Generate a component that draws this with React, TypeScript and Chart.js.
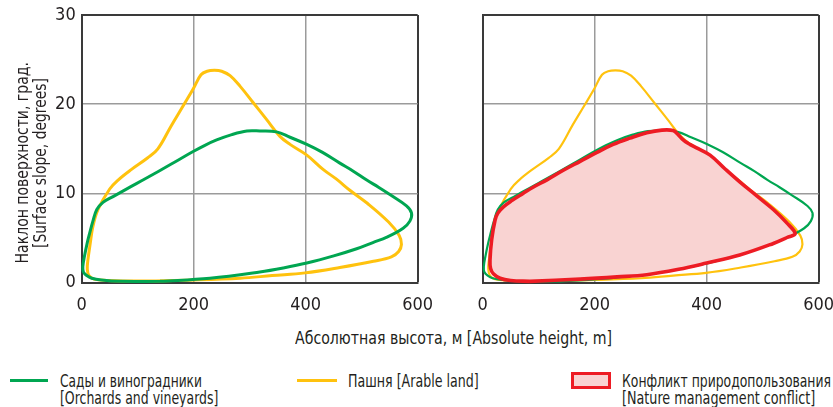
import React, { useEffect, useLayoutEffect, useRef } from 'react';
import { Chart, registerables } from 'chart.js';
Chart.register(...registerables);

const FONT = "'Liberation Sans Narrow', 'DejaVu Sans Condensed', 'Roboto', sans-serif";
const TEXT = '#231f20';

const xTicks = [0, 200, 400, 600];
const yTicks = [0, 10, 20, 30];

const xTitle = 'Абсолютная высота, м [Absolute height, m]';
const yTitle = ['Наклон поверхности, град.', '[Surface slope, degrees]'];

const legendGreen = ['Сады и виноградники', '[Orchards and vineyards]'];
const legendYellow = ['Пашня [Arable land]'];
const legendRed = ['Конфликт природопользования', '[Nature management conflict]'];

// Пашня [Arable land]
const arableX = [120, 200, 283, 340, 399, 461, 521, 553, 566, 571, 567, 548, 510, 480, 455, 431, 402, 372, 354, 330, 306, 283, 265, 250, 237, 224, 213, 199, 181, 160, 136, 118, 89, 65, 50, 29, 20, 15, 11, 10, 13, 22, 45, 80, 120];
const arableY = [0.2, 0.3, 0.5, 0.8, 1.1, 1.7, 2.4, 2.9, 3.5, 4.3, 5.3, 6.8, 8.9, 10.3, 11.6, 12.7, 14.3, 15.5, 16.4, 18.3, 20.2, 22.0, 23.2, 23.7, 23.8, 23.7, 23.3, 21.7, 19.8, 17.6, 15.0, 14.0, 12.7, 11.5, 10.5, 8.2, 6.3, 4.3, 2.5, 1.5, 0.8, 0.4, 0.25, 0.2, 0.2];

// Сады и виноградники [Orchards and vineyards]
const orchardX = [140, 229, 318, 360, 402, 450, 491, 520, 545, 574, 586, 589, 580, 551, 530, 509, 485, 461, 430, 402, 372, 348, 318, 295, 268, 241, 220, 199, 160, 115, 83, 56, 38, 27, 20, 14, 10, 5, 2, 3, 9, 18, 35, 70, 140];
const orchardY = [0.15, 0.5, 1.2, 1.65, 2.2, 3.0, 3.8, 4.5, 5.1, 6.1, 6.9, 7.8, 8.6, 9.85, 10.7, 11.5, 12.5, 13.4, 14.6, 15.5, 16.3, 16.9, 17.0, 17.0, 16.6, 16.0, 15.4, 14.7, 13.3, 11.7, 10.6, 9.65, 9.0, 8.2, 6.9, 5.5, 4.5, 3.0, 1.8, 1.2, 0.8, 0.5, 0.3, 0.15, 0.15];

// Конфликт природопользования [Nature management conflict]
const conflictX = [84, 174, 240, 293, 350, 400, 459, 519, 545, 558, 543, 519, 490, 459, 432, 406, 382, 370, 358, 349, 340, 320, 293, 263, 233, 204, 174, 144, 114, 90, 72, 52, 37, 27, 22, 16, 13, 14, 19, 31, 50, 84];
const conflictY = [0.15, 0.4, 0.65, 0.9, 1.5, 2.2, 3.1, 4.4, 5.1, 5.5, 6.7, 8.2, 9.7, 11.3, 12.8, 14.3, 15.1, 15.5, 16.0, 16.6, 17.05, 17.1, 16.8, 16.2, 15.5, 14.6, 13.6, 12.6, 11.5, 10.7, 10.0, 9.2, 8.5, 7.8, 7.0, 4.8, 2.5, 1.6, 1.0, 0.5, 0.25, 0.15];

const GREEN = '#00a651';
const YELLOW = '#ffc20e';
const RED = '#ed1c24';
const PINK = '#f9d3d2';

const pts = (xs: number[], ys: number[]) => xs.map((x, i) => ({ x, y: ys[i] }));

const PLOT_L = 81.7;
const PLOT_T = 15;
const PLOT_R = 417.7;
const PLOT_B = 282.7;
const CW = 450;
const CH = 325;

function makeOptions(showY: boolean): any {
  const font = { family: FONT, size: 18 };
  return {
    responsive: false,
    animation: false,
    layout: { padding: { top: PLOT_T, right: CW - PLOT_R, left: 0, bottom: 0 } },
    plugins: { legend: { display: false }, tooltip: { enabled: false } },
    scales: {
      x: {
        type: 'linear',
        min: 0,
        max: 600,
        afterBuildTicks: (s: any) => { s.ticks = xTicks.map((v) => ({ value: v })); },
        grid: {
          color: (c: any) => (c.tick && c.tick.value === 600 ? '#3a3a3a' : '#9b9b9b'),
          lineWidth: (c: any) => (c.tick && c.tick.value === 600 ? 2 : 1.5),
          drawTicks: false,
        },
        border: { display: true, color: '#3a3a3a', width: 2 },
        ticks: { padding: 12, font, color: TEXT, maxRotation: 0, autoSkip: false },
        afterFit: (s: any) => { s.height = CH - PLOT_B; s.paddingLeft = 0; s.paddingRight = 0; },
      },
      y: {
        type: 'linear',
        min: 0,
        max: 30,
        afterBuildTicks: (s: any) => { s.ticks = yTicks.map((v) => ({ value: v })); },
        grid: {
          color: (c: any) => (c.tick && c.tick.value === 30 ? '#3a3a3a' : '#9b9b9b'),
          lineWidth: (c: any) => (c.tick && c.tick.value === 30 ? 2 : 1.5),
          drawTicks: false,
        },
        border: { display: true, color: '#3a3a3a', width: 2 },
        ticks: { display: showY, padding: 6, font, color: TEXT },
        afterFit: (s: any) => { s.width = PLOT_L; s.paddingTop = 0; s.paddingBottom = 0; },
      },
    },
  };
}

function line(data: any[], color: string, width: number, extra: any = {}) {
  return {
    data,
    showLine: true,
    borderColor: color,
    borderWidth: width,
    pointRadius: 0,
    tension: 0.38,
    fill: false,
    clip: false,
    ...extra,
  };
}

function Panel({ left, kind }: { left: number; kind: 'left' | 'right' }) {
  const ref = useRef<HTMLCanvasElement | null>(null);
  useEffect(() => {
    if (!ref.current) return;
    const datasets =
      kind === 'left'
        ? [line(pts(orchardX, orchardY), GREEN, 3), line(pts(arableX, arableY), YELLOW, 3)]
        : [
            line(pts(conflictX, conflictY), RED, 3.6, { fill: 'shape', backgroundColor: PINK }),
            line(pts(orchardX, orchardY), GREEN, 2.2),
            line(pts(arableX, arableY), YELLOW, 2.2),
          ];
    const chart = new Chart(ref.current, {
      type: 'scatter',
      data: { datasets },
      options: makeOptions(kind === 'left'),
    } as any);
    return () => chart.destroy();
  }, [kind]);
  return (
    <canvas
      ref={ref}
      width={CW}
      height={CH}
      style={{ position: 'absolute', left, top: 0, width: CW, height: CH }}
    />
  );
}

// A single line of text, horizontally squeezed to a target width (the original uses a narrow face).
function Fit({ text, width, origin = 'left' }: { text: string; width: number; origin?: string }) {
  const ref = useRef<HTMLSpanElement | null>(null);
  useLayoutEffect(() => {
    const el = ref.current;
    if (!el) return;
    const w = el.offsetWidth;
    if (w > 0) el.style.transform = `scaleX(${width / w})`;
  }, [text, width]);
  return (
    <span
      ref={ref}
      style={{ display: 'inline-block', whiteSpace: 'nowrap', transformOrigin: `${origin} center` }}
    >
      {text}
    </span>
  );
}

const textStyle: React.CSSProperties = {
  position: 'absolute',
  fontFamily: FONT,
  fontSize: 18,
  lineHeight: '17px',
  color: TEXT,
  whiteSpace: 'nowrap',
};

export default function App() {
  return (
    <div
      style={{
        position: 'absolute',
        left: 0,
        top: 0,
        width: 833,
        height: 407,
        background: '#fff',
        overflow: 'hidden',
      }}
    >
      <Panel left={0} kind="left" />
      <Panel left={401} kind="right" />
      <div
        style={{
          ...textStyle,
          left: -89,
          top: 145,
          width: 240,
          height: 36,
          lineHeight: '18px',
          textAlign: 'center',
          transform: 'rotate(-90deg)',
          transformOrigin: '50% 50%',
        }}
      >
        <div><Fit text={yTitle[0]} width={201} origin="center" /></div>
        <div><Fit text={yTitle[1]} width={170} origin="center" /></div>
      </div>
      <div style={{ ...textStyle, left: 295, top: 328, lineHeight: '20px' }}>
        <Fit text={xTitle} width={317} />
      </div>
      <div style={{ position: 'absolute', left: 10, top: 379, width: 38, height: 3, background: GREEN }} />
      <div style={{ ...textStyle, left: 60, top: 372 }}>
        <div><Fit text={legendGreen[0]} width={142} /></div>
        <div><Fit text={legendGreen[1]} width={158} /></div>
      </div>
      <div style={{ position: 'absolute', left: 297, top: 379, width: 40, height: 3, background: YELLOW }} />
      <div style={{ ...textStyle, left: 348, top: 372 }}>
        <div><Fit text={legendYellow[0]} width={131} /></div>
      </div>
      <div
        style={{
          position: 'absolute',
          left: 571,
          top: 372,
          width: 34,
          height: 11,
          background: PINK,
          border: `3px solid ${RED}`,
        }}
      />
      <div style={{ ...textStyle, left: 622, top: 372 }}>
        <div><Fit text={legendRed[0]} width={209} /></div>
        <div><Fit text={legendRed[1]} width={193} /></div>
      </div>
    </div>
  );
}
